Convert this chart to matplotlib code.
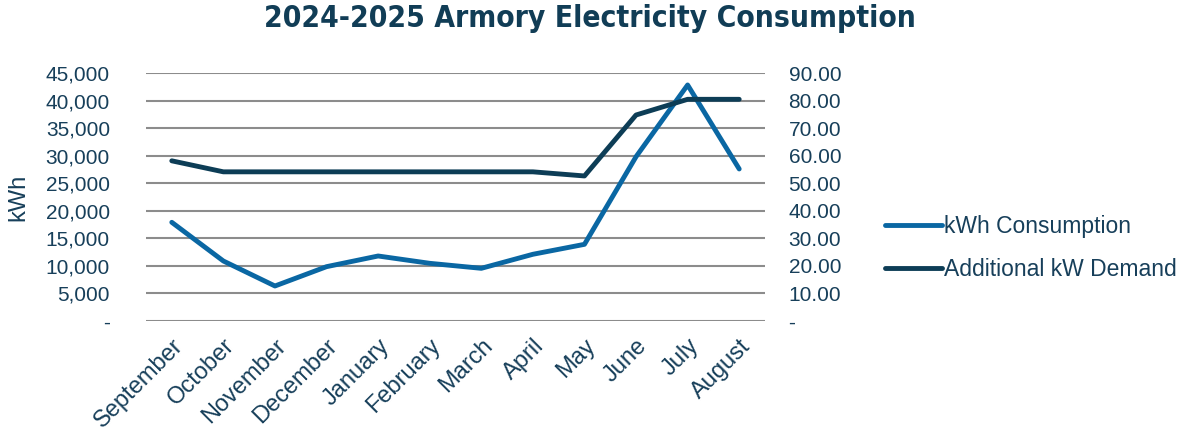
import matplotlib.pyplot as plt
from matplotlib.ticker import FuncFormatter

months = ['September', 'October', 'November', 'December', 'January', 'February',
          'March', 'April', 'May', 'June', 'July', 'August']
kwh = [17930, 10900, 6360, 9870, 11810, 10480, 9570, 12120, 13930, 29850, 42880, 27620]
demand = [58.2, 54.2, 54.2, 54.2, 54.2, 54.2, 54.2, 54.2, 52.7, 74.85, 80.55, 80.55]

txt = '#173f5a'
c_kwh = '#0a67a3'
c_dem = '#0d3d56'
plt.rcParams['font.family'] = ['Liberation Sans', 'DejaVu Sans']

fig = plt.figure(figsize=(11.86, 4.36), dpi=100)
ax = fig.add_axes([146/1186, 1 - 321/436, 619/1186, (321 - 73.3)/436])
ax2 = ax.twinx()

x = range(len(months))
l1, = ax.plot(x, kwh, color=c_kwh, lw=3.5, solid_capstyle='round', label='kWh Consumption', zorder=3)
l2, = ax2.plot(x, demand, color=c_dem, lw=3.5, solid_capstyle='round', label='Additional kW Demand', zorder=3)

ax.set_xlim(-0.5, 11.5)
ax.set_ylim(0, 45000)
ax2.set_ylim(0, 90)
ax.set_yticks(range(0, 45001, 5000))
ax2.set_yticks(range(0, 91, 10))
ax.yaxis.set_major_formatter(FuncFormatter(lambda v, p: '-' if v == 0 else f'{v:,.0f}'))
ax2.yaxis.set_major_formatter(FuncFormatter(lambda v, p: '-' if v == 0 else f'{v:.2f}'))

ax.grid(axis='y', color='#8c8c8c', lw=1.5)
ax.set_axisbelow(True)
for a in (ax, ax2):
    for s in a.spines.values():
        s.set_visible(False)
    a.tick_params(length=0, labelsize=15, colors=txt)

ax.tick_params(axis='y', pad=26)
ax2.tick_params(axis='y', pad=17)
ax.set_xticks(list(x))
ax.set_xticklabels(months, rotation=45, ha='right', rotation_mode='anchor', fontsize=17)
ax.tick_params(axis='x', pad=10)
ax.set_ylabel('kWh', fontsize=17, color=txt, labelpad=12)

ax2.set_zorder(ax.get_zorder() + 1)
ax2.patch.set_visible(False)

fig.legend([l1, l2], ['kWh Consumption', 'Additional kW Demand'], loc='center left',
           bbox_to_anchor=(864/1186, 1 - 248/436), frameon=False, fontsize=16.5,
           labelcolor=txt, handlelength=2.5, handletextpad=0.1, labelspacing=0.85)

fig.suptitle('2024-2025 Armory Electricity Consumption', x=590/1186, y=0.99,
             fontsize=21.5, fontweight='bold', color='#113d56',
             family=['DejaVu Sans'], fontstretch='condensed')

fig.savefig('out.png', dpi=100)
